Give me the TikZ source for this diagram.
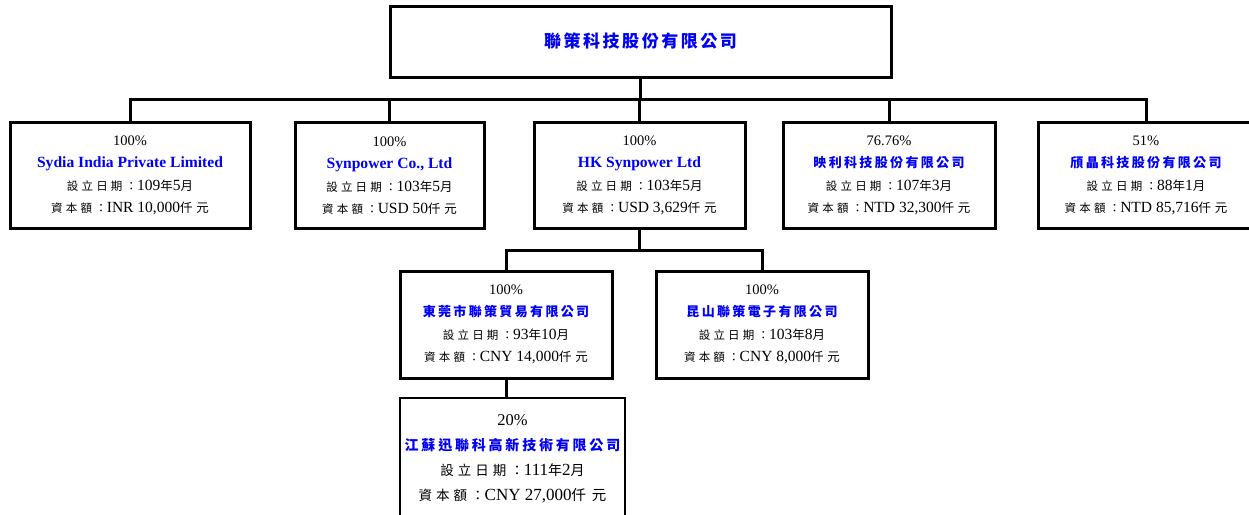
\documentclass[tikz,border=0pt]{standalone}
\usepackage{fontspec}
\setmainfont{Liberation Serif}
\newfontfamily\cjkfont{Noto Sans CJK TC}
\definecolor{nameblue}{RGB}{0,0,245}
\newcommand\ck[3]{{\cjkfont\fontsize{#1}{20}\selectfont\addfontfeature{LetterSpace=#2}#3}}
% row boxes: label, year/month, unit, latin
\newcommand\lab[1]{\ck{11.5}{28}{#1}}
\newcommand\ym[1]{\ck{12.5}{0}{#1}}
\newcommand\unit{\ck{12.5}{30}{仟元}}
\newcommand\nb[1]{{\fontsize{15.5}{20}\selectfont #1}}
% bottom box
\newcommand\labb[1]{\ck{13.5}{30}{#1}}
\newcommand\ymb[1]{\ck{14}{0}{#1}}
\newcommand\unitb{\ck{14.5}{40}{仟元}}
\newcommand\nbb[1]{{\fontsize{17}{20}\selectfont #1}}
\newcommand\cjn[3]{{\cjkfont\bfseries\fontsize{#1}{#1}\selectfont\addfontfeature{LetterSpace=#2}\color{nameblue}#3}}
\newcommand\ename[1]{{\fontsize{15.6}{20}\selectfont\bfseries\color{nameblue}#1}}
\tikzset{
  box/.style={draw, rectangle, line width=3pt, minimum height=106pt, align=center, inner sep=0pt,
    font=\fontsize{14.5}{22.5}\selectfont},
  link/.style={line width=3pt},
}
\begin{document}
\begin{tikzpicture}[x=1pt,y=-1pt]
\useasboundingbox (0,0) rectangle (1249,514);
\clip (0,0) rectangle (1249,514);

\node[box, minimum width=501pt, minimum height=71pt] (top) at (640.5,41.5) {\cjn{17}{15}{聯策科技股份有限公司}};

\node[box, minimum width=240pt] (b1) at (130,175.5) {100\%\\
\ename{Sydia India Private Limited}\\
\lab{設立日期：}\nb{109}\ym{年}\nb{5}\ym{月}\\
\lab{資本額：}\nb{INR 10,000}\unit};

\node[box, minimum width=189pt] (b2) at (389.5,175.5) {100\%\\
\ename{Synpower Co., Ltd}\\
\lab{設立日期：}\nb{103}\ym{年}\nb{5}\ym{月}\\
\lab{資本額：}\nb{USD 50}\unit};

\node[box, minimum width=211pt] (b3) at (639.5,175.5) {100\%\\
\ename{HK Synpower Ltd}\\
\lab{設立日期：}\nb{103}\ym{年}\nb{5}\ym{月}\\
\lab{資本額：}\nb{USD 3,629}\unit};

\node[box, minimum width=212pt] (b4) at (889,175.5) {76.76\%\\
\cjn{13}{18}{映利科技股份有限公司}\\
\lab{設立日期：}\nb{107}\ym{年}\nb{3}\ym{月}\\
\lab{資本額：}\nb{NTD 32,300}\unit};

\node[box, minimum width=216pt] (b5) at (1146,175.5) {51\%\\
\cjn{13}{18}{頎晶科技股份有限公司}\\
\lab{設立日期：}\nb{88}\ym{年}\nb{1}\ym{月}\\
\lab{資本額：}\nb{NTD 85,716}\unit};

\node[box, minimum width=212pt, minimum height=107pt] (b6) at (506,324.5) {100\%\\
\cjn{13}{18}{東莞市聯策貿易有限公司}\\
\lab{設立日期：}\nb{93}\ym{年}\nb{10}\ym{月}\\
\lab{資本額：}\nb{CNY 14,000}\unit};

\node[box, minimum width=212pt, minimum height=107pt] (b7) at (762,324.5) {100\%\\
\cjn{13}{18}{昆山聯策電子有限公司}\\
\lab{設立日期：}\nb{103}\ym{年}\nb{8}\ym{月}\\
\lab{資本額：}\nb{CNY 8,000}\unit};

\node[box, line width=2pt, minimum width=225pt, minimum height=122pt, font=\fontsize{16.5}{25}\selectfont] (b8) at (512.5,459) {20\%\\
\cjn{14}{20}{江蘇迅聯科高新技術有限公司}\\
\labb{設立日期：}\nbb{111}\ymb{年}\nbb{2}\ymb{月}\\
\labb{資本額：}\nbb{CNY 27,000}\unitb};

\coordinate (bus1) at (0,99);
\coordinate (bus2) at (0,250);
\draw[link] (top.south) -- (top.south |- bus1);
\draw[link] (b1.north) |- (b5.north |- bus1) -- (b5.north);
\draw[link] (b2.north) -- (b2.north |- bus1);
\draw[link] (b3.north) -- (b3.north |- bus1);
\draw[link] (b4.north) -- (b4.north |- bus1);
\draw[link] (b3.south) -- (b3.south |- bus2);
\draw[link] (b6.north) |- (b7.north |- bus2) -- (b7.north);
\draw[link] (b6.south) -- (b6.south |- b8.north);
\end{tikzpicture}
\end{document}
